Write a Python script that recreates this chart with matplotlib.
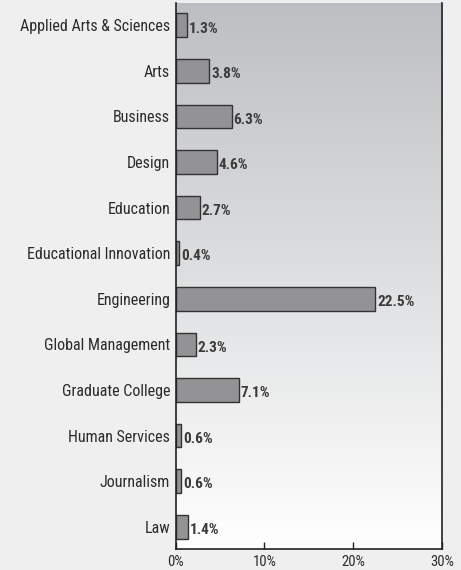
import matplotlib.pyplot as plt
import numpy as np

categories = [
    "Applied Arts & Sciences",
    "Arts",
    "Business",
    "Design",
    "Education",
    "Educational Innovation",
    "Engineering",
    "Global Management",
    "Graduate College",
    "Human Services",
    "Journalism",
    "Law",
]
shares = [1.3, 3.8, 6.3, 4.6, 2.7, 0.4, 22.5, 2.3, 7.1, 0.6, 0.6, 1.4]
x_ticks = [0, 10, 20, 30]
x_tick_labels = ["0%", "10%", "20%", "30%"]

plt.rcParams["font.family"] = ["Roboto Condensed", "DejaVu Sans"]

TEXT = "#2b2b2b"

fig = plt.figure(figsize=(4.61, 5.70), dpi=100, facecolor="#efefef")
ax = fig.add_axes([175.7 / 461, 21 / 570, (442 - 175.7) / 461, (549 - 3) / 570])

# vertical gradient background: gray at top to white at bottom
grad = np.linspace(0, 1, 256).reshape(-1, 1)
top = np.array([0.74, 0.75, 0.76])
bottom = np.array([1.0, 1.0, 1.0])
img = top + (bottom - top) * grad[..., None] * np.ones((1, 1, 3))
ax.imshow(img, extent=[0, 30, 11.49, -0.49], aspect="auto", zorder=0,
          interpolation="bicubic")

y = np.arange(len(categories))
ax.barh(y, shares, height=0.52, color="#939396", edgecolor="#333333",
        linewidth=1.0, zorder=2)

for yi, v in zip(y, shares):
    ax.text(v + 0.2, yi + 0.07, f"{v}%", ha="left", va="center",
            fontsize=11, fontweight="bold", color="#3a3a3a", zorder=3)

ax.set_xlim(0, 30)
ax.set_ylim(11.49, -0.49)
ax.set_yticks(y)
ax.set_yticklabels(categories, fontsize=11.5, color=TEXT)
ax.set_xticks(x_ticks)
ax.set_xticklabels(x_tick_labels, fontsize=10.5, color=TEXT)
ax.tick_params(axis="y", length=0, pad=4)
ax.tick_params(axis="x", direction="in", length=5, width=1, color="#222222", pad=4)

for side in ["left", "right", "bottom"]:
    ax.spines[side].set_color("#222222")
    ax.spines[side].set_linewidth(1.2)
ax.spines["top"].set_visible(False)

fig.savefig("out.png", dpi=100, facecolor=fig.get_facecolor())
